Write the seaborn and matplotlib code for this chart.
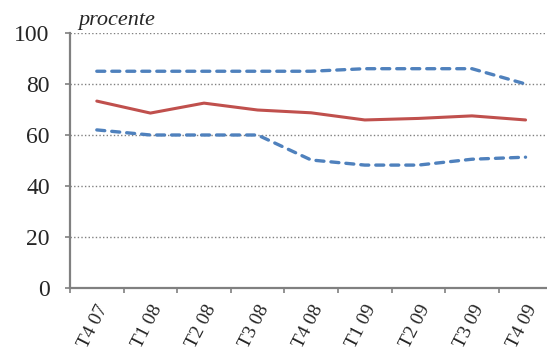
import matplotlib
matplotlib.use("Agg")
import matplotlib.pyplot as plt
import matplotlib.transforms as mtransforms
import seaborn as sns
import pandas as pd

quarters = ["T4 07", "T1 08", "T2 08", "T3 08", "T4 08", "T1 09", "T2 09", "T3 09", "T4 09"]
upper = [85, 85, 85, 85, 85, 86, 86, 86, 80]
central = [73.3, 68.6, 72.5, 69.8, 68.7, 65.9, 66.5, 67.5, 65.9]
lower = [62, 60, 60, 60, 50.2, 48.2, 48.2, 50.5, 51.3]

sns.set_style("white")
plt.rcParams["font.family"] = ["Liberation Serif", "DejaVu Serif"]

fig = plt.figure(figsize=(5.47, 3.51), dpi=100)
ax = fig.add_axes([70 / 547, (351 - 288) / 351, 1 - 70 / 547, (288 - 33) / 351])

blue = "#4F81BD"
red = "#C0504D"
df = pd.DataFrame({"q": quarters, "upper": upper, "central": central, "lower": lower})
for col, color, lw, dash in [("upper", blue, 2.4, (2.4, 2.1)), ("lower", blue, 2.4, (2.4, 2.1)),
                             ("central", red, 2.2, None)]:
    sns.lineplot(data=df, x="q", y=col, ax=ax, color=color, linewidth=lw, sort=False)
    l = ax.lines[-1]
    if dash:
        l.set_dashes(dash)
        l.set_dash_capstyle("round")
    l.set_solid_joinstyle("round")

ax.set_ylim(0, 100)
ax.set_xlim(-0.5, 8.40)
ax.set_yticks([0, 20, 40, 60, 80, 100])
ax.set_yticklabels(["0", "20", "40", "60", "80", "100"], fontsize=17)
for y in [20, 40, 60, 80, 100]:
    ax.axhline(y, color="#808080", linestyle=(0, (1, 1.6)), linewidth=1.0, zorder=0)

ax.set_xticks([i - 0.5 for i in range(9)])
ax.set_xticklabels([])
ax.set_xticks(range(9), minor=True)
ax.set_xticklabels(quarters, minor=True, rotation=63, ha="right", va="top",
                   rotation_mode="anchor", fontsize=14)
shift = mtransforms.ScaledTranslation(-4 / 100, 0, fig.dpi_scale_trans)
for lab in ax.get_xticklabels(minor=True):
    lab.set_transform(lab.get_transform() + shift)
ax.tick_params(axis="x", which="minor", length=0, pad=10)
ax.tick_params(axis="x", which="major", length=3.6, width=1.2, color="#808080", direction="out", bottom=True)
ax.tick_params(axis="y", length=3.6, width=1.2, color="#808080", direction="out", left=True, pad=11)

for s in ["top", "right"]:
    ax.spines[s].set_visible(False)
for s in ["left", "bottom"]:
    ax.spines[s].set_color("#808080")
    ax.spines[s].set_linewidth(1.6)

ax.set_xlabel("")
ax.set_ylabel("")
fig.text(78 / 547, 1 - 20 / 351, "procente", fontsize=16, style="italic", va="center", ha="left")

fig.savefig("out.png", dpi=100)
